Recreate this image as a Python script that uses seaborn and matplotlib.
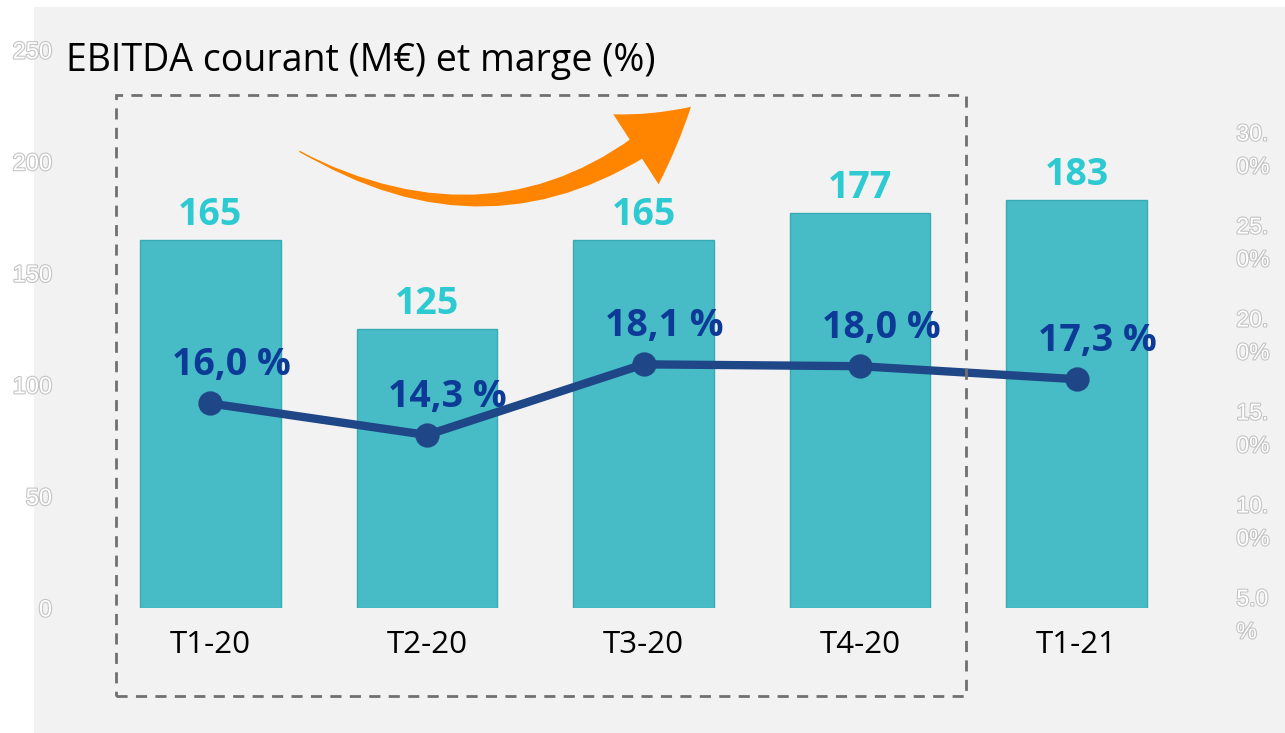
import pandas as pd
import matplotlib
matplotlib.use('Agg')
import matplotlib.pyplot as plt
import matplotlib.patheffects as pe
from matplotlib.patches import Rectangle, FancyArrowPatch, ArrowStyle
import seaborn as sns

# Données
trimestres = ['T1-20', 'T2-20', 'T3-20', 'T4-20', 'T1-21']
ebitda = [165, 125, 165, 177, 183]
marge = [16.0, 14.3, 18.1, 18.0, 17.3]
marge_labels = ['16,0 %', '14,3 %', '18,1 %', '18,0 %', '17,3 %']
ticks_gauche = [0, 50, 100, 150, 200, 250]
ticks_droite = [5, 10, 15, 20, 25, 30]
ticks_droite_labels = ['5.0\n%', '10.\n0%', '15.\n0%', '20.\n0%', '25.\n0%', '30.\n0%']

df = pd.DataFrame({'trimestre': trimestres, 'ebitda': ebitda, 'marge': marge})

sns.set_theme(style='white')
plt.rcParams['font.family'] = ['Open Sans', 'DejaVu Sans']

W, H = 1285, 733
fig = plt.figure(figsize=(W / 100, H / 100), dpi=100, facecolor='white')

# fond gris
fig.patches.append(Rectangle((34 / W, 0), 1 - 34 / W, (H - 7) / H,
                             transform=fig.transFigure, facecolor='#f2f2f2',
                             edgecolor='none', zorder=-10))

ax = fig.add_axes([102 / W, 125 / H, (1185 - 102) / W, (608 - 50) / H])
ax.set_facecolor('none')

sns.barplot(data=df, x='trimestre', y='ebitda', color='#47bcc6', width=0.65,
            saturation=1, edgecolor='#3aaab4', linewidth=1, ax=ax)
ax.set_ylim(0, 250)
ax.set_xlim(-0.5, 4.5)

for i, v in enumerate(ebitda):
    ax.annotate(str(v), (i, v), xytext=(0, 4), textcoords='offset points',
                ha='center', va='bottom', fontsize=27, fontweight='bold',
                color='#2ecad2')

outline = [pe.withStroke(linewidth=1.6, foreground='#c4c4c4')]

ax.set_yticks(ticks_gauche)
ax.set_yticklabels([str(t) for t in ticks_gauche])
for lab in ax.get_yticklabels():
    lab.set_color('white')
    lab.set_fontsize(17)
    lab.set_family(['Liberation Sans', 'DejaVu Sans'])
    lab.set_path_effects(outline)
ax.tick_params(axis='y', length=0, pad=36)
ax.tick_params(axis='x', length=0, pad=16, labelsize=22.5, labelcolor='black')
ax.set_xlabel('')
ax.set_ylabel('')
sns.despine(ax=ax, left=True, bottom=True)

# marge (axe de droite)
ax2 = ax.twinx()
sns.pointplot(data=df, x='trimestre', y='marge', color='#1f4788',
              markersize=13, linewidth=6, ax=ax2)
ax2.set_ylim(5, 35)
ax2.set_xlim(-0.5, 4.5)
ax2.set_yticks(ticks_droite)
ax2.set_yticklabels(ticks_droite_labels, linespacing=1.55)
for lab in ax2.get_yticklabels():
    lab.set_color('white')
    lab.set_fontsize(16.5)
    lab.set_family(['Liberation Sans', 'DejaVu Sans'])
    lab.set_path_effects(outline)
ax2.tick_params(axis='y', length=0, pad=37)
ax2.set_xlabel('')
ax2.set_ylabel('')
for s in ax2.spines.values():
    s.set_visible(False)

for i, (v, t) in enumerate(zip(marge, marge_labels)):
    ax2.annotate(t, (i, v), xytext=(15, 14), textcoords='offset points',
                 ha='center', va='bottom', fontsize=27, fontweight='bold',
                 color='#0d3a96')

# titre
fig.text(66 / W, 1 - 61 / H, 'EBITDA courant (M€) et marge (%)', fontsize=27,
         color='black', ha='left', va='center')

# cadre pointillé autour de 2020
fig.patches.append(Rectangle((116 / W, 1 - 696 / H), (966 - 116) / W, (696 - 95) / H,
                             transform=fig.transFigure, fill=False,
                             edgecolor='#707070', linewidth=2, linestyle=(0, (4, 3)),
                             zorder=5))

# flèche orange : pointe + corps effilé
debut = (297 / W, 1 - 150 / H)
pointe = (693 / W, 1 - 105 / H)
tete = ArrowStyle('Simple', head_length=2.5, head_width=3.0, tail_width=0.05)
fig.patches.append(FancyArrowPatch(debut, pointe, transform=fig.transFigure,
                                   arrowstyle=tete, connectionstyle='arc3,rad=0.36',
                                   mutation_scale=20, color='#ff8400', lw=0, zorder=6))
corps = ArrowStyle('Wedge', tail_width=0.9, shrink_factor=0.5)
fig.patches.append(FancyArrowPatch(pointe, debut, transform=fig.transFigure,
                                   arrowstyle=corps, connectionstyle='arc3,rad=-0.36',
                                   shrinkA=30, shrinkB=0,
                                   mutation_scale=20, color='#ff8400', lw=0, zorder=6))

fig.savefig('out.png', dpi=100, facecolor='white')
